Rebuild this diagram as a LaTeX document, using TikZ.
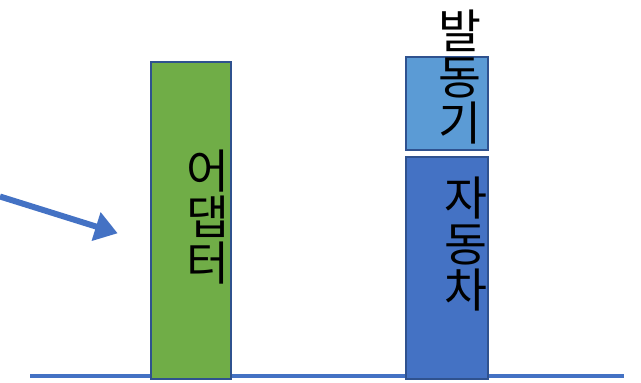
\documentclass[tikz,border=0pt]{standalone}
\usepackage{fontspec}
\newfontfamily\kofont{Noto Sans CJK KR}
\usepackage{xcolor}
\usetikzlibrary{arrows.meta}
\definecolor{barline}{HTML}{2F528F}
\definecolor{bargreen}{HTML}{70AD47}
\definecolor{barlight}{HTML}{5B9BD5}
\definecolor{bardark}{HTML}{4472C4}

\begin{document}
\begin{tikzpicture}[x=0.75pt,y=-0.75pt,
        bar/.style={draw=barline, line width=1.5pt, rectangle, inner sep=0pt, minimum width=60pt},
        word/.style={align=center, inner sep=0pt, font=\kofont\fontsize{35}{34.5}\selectfont}]
        \useasboundingbox (0,0) rectangle (641,382);
        % ground line
        \coordinate (groundleft) at (30,376);
        \coordinate (groundright) at (624,376);
        \draw[bardark, line width=2.6pt] (groundleft) -- (groundright);
        
        % bars
        \node[bar, fill=bargreen, minimum height=237.75pt] (adapter) at (191,220.5) {};
        \node[bar, fill=barlight, minimum width=61.5pt, minimum height=69.75pt] (engine) at (447,103.5) {};
        \node[bar, fill=bardark, minimum width=61.5pt, minimum height=166.5pt] (car) at (447,268) {};
        
        % labels
        \node[word] (adapterlbl) at (208,217) {어\\댑\\터};
        \node[word] (enginelbl) at (460,77) {발\\동\\기};
        \node[word] (carlbl) at (466,244) {자\\동\\차};
        
        \coordinate (arrowstart) at (0,196.5);
        \coordinate (arrowtip) at (117.7,233.3);
        \draw[-{Triangle[length=17pt,width=21.5pt]}, bardark, line width=4.5pt] (arrowstart) -- (arrowtip);
    \end{tikzpicture}
\end{document}
